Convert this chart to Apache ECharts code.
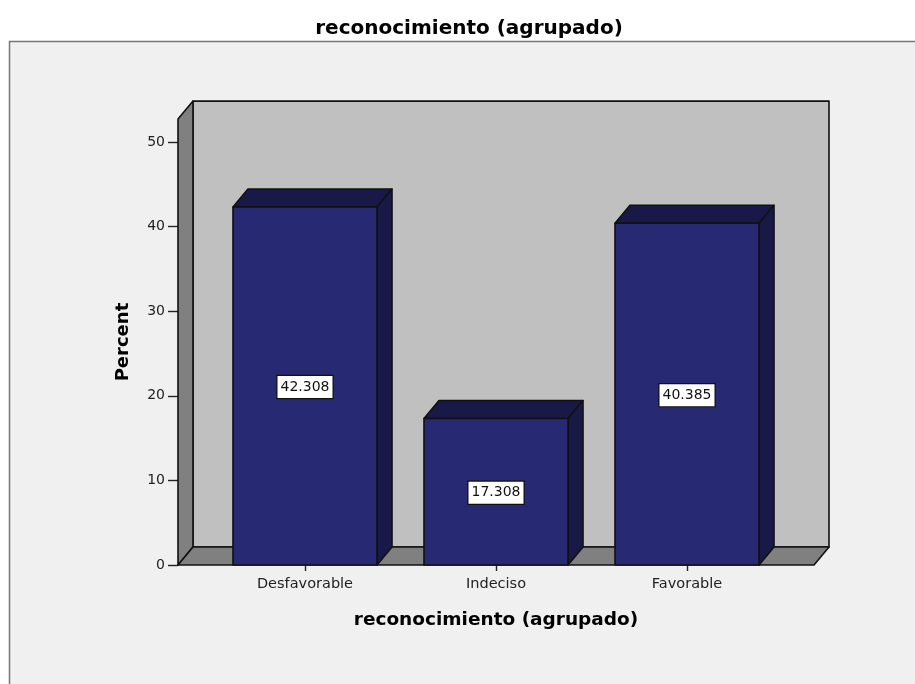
<!DOCTYPE html>
<html><head><meta charset="utf-8">
<style>html,body{margin:0;padding:0;background:#fff;overflow:hidden}#c{width:915px;height:684px}</style>
<script src="https://cdn.jsdelivr.net/npm/echarts@6/dist/echarts.min.js"></script>
</head><body><div id="c"></div>
<script>
const categories = ['Desfavorable', 'Indeciso', 'Favorable'];
const percentValues = [42.308, 17.308, 40.385];
const yTicks = [0, 10, 20, 30, 40, 50];
const axisTop = 52.7;
const chartTitle = 'reconocimiento (agrupado)';
const xTitle = 'reconocimiento (agrupado)';
const yTitle = 'Percent';

const DX = 15, DY = 18, PAD = 31.5, EDGE = '#111';
const FONT = '"DejaVu Sans", sans-serif';

function poly(points, fill) {
  return { type: 'polygon', shape: { points }, style: { fill, stroke: EDGE, lineWidth: 1.6, lineJoin: 'round' } };
}
function renderFrame(params, api) {
  const cs = params.coordSys;
  const l = cs.x - PAD, r = cs.x + cs.width + PAD;
  const b = api.coord([0, 0])[1], t = api.coord([0, axisTop])[1];
  return { type: 'group', children: [
    poly([[l + DX, t - DY], [r + DX, t - DY], [r + DX, b - DY], [l + DX, b - DY]], '#c0c0c0'),
    poly([[l, t], [l + DX, t - DY], [l + DX, b - DY], [l, b]], '#808080'),
    poly([[l, b], [l + DX, b - DY], [r + DX, b - DY], [r, b]], '#808080')
  ]};
}
function renderBar(params, api) {
  const c = api.coord([api.value(0), api.value(1)]);
  const base = api.coord([api.value(0), 0])[1];
  const w = api.size([1, 0])[0] * 0.754;
  const l = c[0] - w / 2, r = c[0] + w / 2, t = c[1];
  const mid = (t + base) / 2 + 1;
  const txt = api.value(1).toFixed(3);
  return { type: 'group', children: [
    poly([[l, t], [l + DX, t - DY], [r + DX, t - DY], [r, t]], '#191947'),
    poly([[r, t], [r + DX, t - DY], [r + DX, base - DY], [r, base]], '#191947'),
    poly([[l, t], [r, t], [r, base], [l, base]], '#272972'),
    { type: 'text', x: c[0], y: mid, z2: 10, style: {
      text: txt, font: '14px ' + FONT, fill: '#111', align: 'center', verticalAlign: 'middle',
      backgroundColor: '#fff', borderColor: '#111', borderWidth: 1.2, padding: [4, 3, 4, 3]
    } }
  ]};
}

const chart = echarts.init(document.getElementById('c'), null, { renderer: 'canvas' });
chart.setOption({
  animation: false,
  backgroundColor: '#fff',
  title: { text: chartTitle, left: 464, top: 14, textAlign: 'center',
    textStyle: { fontFamily: FONT, fontSize: 20, fontWeight: 'bold', color: '#000' } },
  graphic: [{ type: 'rect', z: -10, silent: true, shape: { x: 9.5, y: 41.5, width: 930, height: 680 },
    style: { fill: '#f0f0f0', stroke: '#777', lineWidth: 1.5 } }],
  grid: { left: 209.5, right: 132.5, top: 119.1, bottom: 119 },
  xAxis: { type: 'category', data: categories,
    axisLine: { show: false },
    axisTick: { show: true, alignWithLabel: true, length: 6, lineStyle: { color: '#222', width: 1.4 } },
    axisLabel: { color: '#222', fontFamily: FONT, fontSize: 14.5, margin: 12 },
    name: xTitle, nameLocation: 'middle', nameGap: 46,
    nameTextStyle: { fontFamily: FONT, fontSize: 18.5, fontWeight: 'bold', color: '#000' } },
  yAxis: { type: 'value', min: 0, max: axisTop, offset: 31.5, splitLine: { show: false },
    axisLine: { show: false },
    axisTick: { show: true, length: 10, customValues: yTicks, lineStyle: { color: '#222', width: 1.4 } },
    axisLabel: { color: '#222', fontFamily: FONT, fontSize: 14, margin: 13, padding: [4, 0, 0, 0], customValues: yTicks },
    name: yTitle, nameLocation: 'middle', nameGap: 46, nameRotate: 90,
    nameTextStyle: { fontFamily: FONT, fontSize: 18, fontWeight: 'bold', color: '#000' } },
  series: [
    { type: 'custom', renderItem: renderFrame, clip: false, silent: true, z: 1,
      data: [[0, axisTop]], encode: { x: 0, y: 1 } },
    { type: 'custom', renderItem: renderBar, clip: false, silent: true, z: 2,
      data: percentValues.map((v, i) => [i, v]), encode: { x: 0, y: 1 } }
  ]
});
</script></body></html>
